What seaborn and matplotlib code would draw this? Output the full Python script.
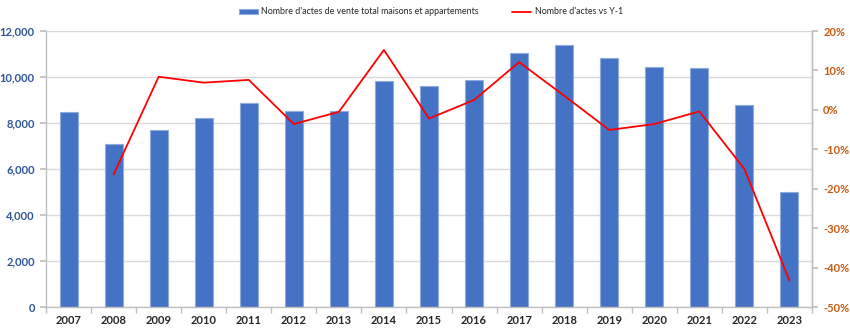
import matplotlib
matplotlib.use("Agg")
import matplotlib.pyplot as plt
import seaborn as sns
import numpy as np
import pandas as pd
from matplotlib.ticker import FuncFormatter, FixedLocator

years = ["2007", "2008", "2009", "2010", "2011", "2012", "2013", "2014", "2015",
         "2016", "2017", "2018", "2019", "2020", "2021", "2022", "2023"]
actes = [8470, 7100, 7700, 8220, 8870, 8520, 8520, 9830, 9600,
         9860, 11030, 11410, 10830, 10430, 10390, 8780, 5000]
var_pct = [np.nan, -16.4, 8.4, 6.9, 7.6, -3.6, -0.5, 15.2, -2.2,
           2.5, 12.1, 3.6, -5.1, -3.6, -0.4, -15.0, -43.3]

bar_label = "Nombre d'actes de vente total maisons et appartements"
line_label = "Nombre d'actes vs Y-1"

sns.set_theme(style="white")
plt.rcParams['font.family'] = ['Lato', 'DejaVu Sans']

df = pd.DataFrame({"year": years, "actes": actes, "var": var_pct})
df["pos"] = np.arange(len(years))

fig = plt.figure(figsize=(8.5, 3.31), dpi=100)
ax = fig.add_axes([46/850, 24/331, (812-46)/850, (307-31)/331])

sns.barplot(data=df, x="year", y="actes", ax=ax, color="#4472C4", width=0.4,
            saturation=1, edgecolor="#8FAADC", linewidth=0.8, label=bar_label)
ax.set_ylim(0, 12000)
ax.set_yticks(np.arange(0, 12001, 2000))
ax.yaxis.set_major_formatter(FuncFormatter(lambda v, p: f"{int(v):,}"))
ax.grid(axis="y", color="#D9D9D9", linewidth=1)
ax.set_axisbelow(True)
ax.set_xlabel("")
ax.set_ylabel("")
ax.set_xlim(-0.5, len(years) - 0.5)
for lab in ax.get_yticklabels():
    lab.set_color("#2F5597")
    lab.set_fontsize(8)
    lab.set_fontweight("bold")
for lab in ax.get_xticklabels():
    lab.set_color("#262626")
    lab.set_fontsize(8)
    lab.set_fontweight("bold")
ax.tick_params(axis="x", length=0, pad=6)
ax.tick_params(axis="y", length=4, color="#BFBFBF", pad=4)
# category boundary tick marks
ax.xaxis.set_minor_locator(FixedLocator(np.arange(-0.5, len(years), 1.0)))
ax.tick_params(axis="x", which="minor", length=4, color="#BFBFBF", bottom=True)
ax.spines["top"].set_visible(False)
for s in ["left", "right", "bottom"]:
    ax.spines[s].set_color("#BFBFBF")
    ax.spines[s].set_linewidth(1)

ax2 = ax.twinx()
sns.lineplot(data=df, x="pos", y="var", ax=ax2, color="#FF0000", linewidth=1.3,
             label=line_label)
ax2.set_ylim(-50, 20)
ax2.set_yticks(np.arange(-50, 21, 10))
ax2.yaxis.set_major_formatter(FuncFormatter(lambda v, p: f"{int(v)}%"))
ax2.set_ylabel("")
ax2.set_xlabel("")
ax2.set_xlim(-0.5, len(years) - 0.5)
ax2.grid(False)
for lab in ax2.get_yticklabels():
    lab.set_color("#C55A11")
    lab.set_fontsize(8)
    lab.set_fontweight("bold")
ax2.tick_params(axis="y", length=4, color="#BFBFBF", pad=4)
for s in ["top", "left", "bottom"]:
    ax2.spines[s].set_visible(False)
ax2.spines["right"].set_color("#BFBFBF")
ax2.spines["right"].set_linewidth(1)

h1, l1 = ax.get_legend_handles_labels()
h2, l2 = ax2.get_legend_handles_labels()
if ax.get_legend():
    ax.get_legend().remove()
if ax2.get_legend():
    ax2.get_legend().remove()
fig.legend(h1 + h2, l1 + l2, loc="center", bbox_to_anchor=(0.507, 1 - 12/331),
           ncol=2, frameon=False, fontsize=6.4, handlelength=2.1,
           handletextpad=0.4, columnspacing=3.8, handleheight=0.6)

fig.savefig("out.png", dpi=100)
